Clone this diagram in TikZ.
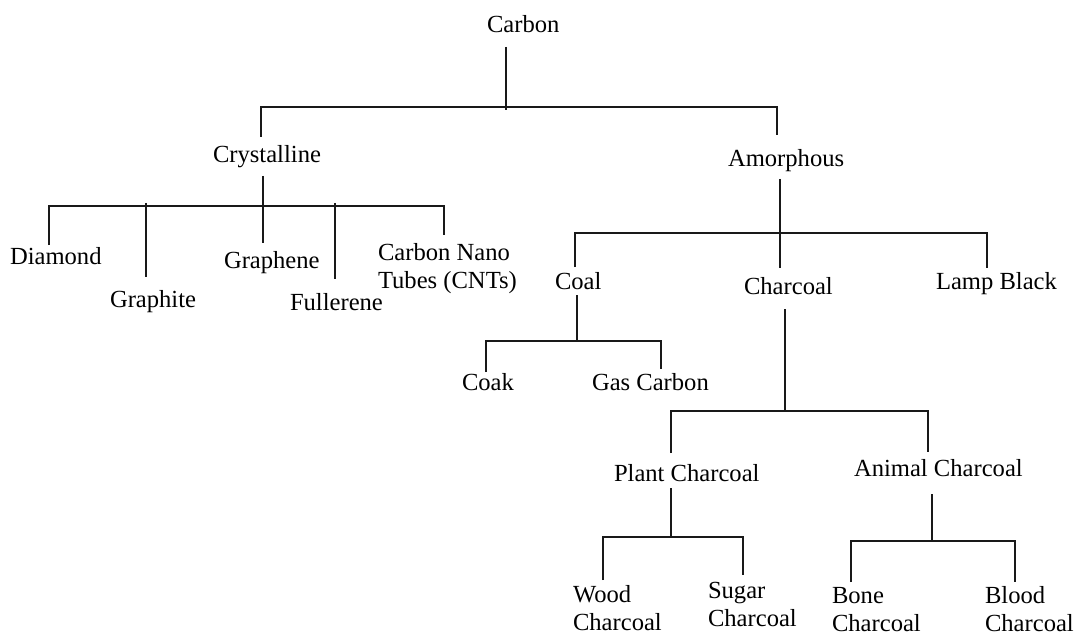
\documentclass[tikz,border=0pt]{standalone}
\usepackage{fontspec}
\setmainfont{Liberation Serif}
\begin{document}
\begin{tikzpicture}[x=1pt,y=-1pt,
  lbl/.style={anchor=base west,inner sep=0pt,outer sep=0pt,text=black,
    font=\fontsize{24.6}{28.5}\selectfont},
  conn/.style={draw=black!90,line width=2pt}]
\useasboundingbox (0,0) rectangle (1075,636);
\newcommand{\twoline}[2]{\begin{tabular}[t]{@{}l@{}}#1\\#2\end{tabular}}
% labels
\node[lbl] (carbon) at (487,33) {Carbon};
\node[lbl] (cryst) at (213,163) {Crystalline};
\node[lbl] (amorph) at (728,167) {Amorphous};
\node[lbl] (diamond) at (10,265) {Diamond};
\node[lbl] (graphite) at (110,307) {Graphite};
\node[lbl] (graphene) at (224,268) {Graphene};
\node[lbl] (fullerene) at (290,310) {Fullerene};
\node[lbl] (cnt) at (378,260) {\twoline{Carbon Nano}{Tubes (CNTs)}};
\node[lbl] (coal) at (555,289) {Coal};
\node[lbl] (charcoal) at (744,294) {Charcoal};
\node[lbl] (lamp) at (936,289) {Lamp Black};
\node[lbl] (coak) at (462,390) {Coak};
\node[lbl] (gas) at (592,390) {Gas Carbon};
\node[lbl] (plant) at (614,481) {Plant Charcoal};
\node[lbl] (animal) at (854,476) {Animal Charcoal};
\node[lbl] (wood) at (573,602) {\twoline{Wood}{Charcoal}};
\node[lbl] (sugar) at (708,598) {\twoline{Sugar}{Charcoal}};
\node[lbl] (bone) at (832,603) {\twoline{Bone}{Charcoal}};
\node[lbl] (blood) at (985,603) {\twoline{Blood}{Charcoal}};
% connector end points
\coordinate (carbonS) at (506,47);
\coordinate (carbonJ) at (506,110);
\coordinate (crystN) at (261,137);
\coordinate (amorphN) at (777,135);
\coordinate (crystS) at (263,176);
\coordinate (crystJ) at (263,209);
\coordinate (diamondN) at (49,245);
\coordinate (graphiteN) at (146,277);
\coordinate (graphiteT) at (146,203);
\coordinate (grapheneN) at (263,243);
\coordinate (fullereneN) at (335,279);
\coordinate (fullereneT) at (335,203);
\coordinate (cntN) at (444,235);
\coordinate (amorphS) at (780,179);
\coordinate (charcoalN) at (780,268);
\coordinate (coalN) at (575,267);
\coordinate (lampN) at (987,268);
\coordinate (coalS) at (577,295);
\coordinate (coalJ) at (577,341);
\coordinate (coakN) at (486,372);
\coordinate (gasN) at (661,369);
\coordinate (charcoalS) at (785,309);
\coordinate (charcoalJ) at (785,411);
\coordinate (plantN) at (671,453);
\coordinate (animalN) at (928,452);
\coordinate (plantS) at (671,488);
\coordinate (plantJ) at (671,537);
\coordinate (woodN) at (603,580);
\coordinate (sugarN) at (743,575);
\coordinate (animalS) at (932,494);
\coordinate (animalJ) at (932,541);
\coordinate (boneN) at (851,582);
\coordinate (bloodN) at (1015,582);
% connectors
\draw[conn] (carbonS) -- (carbonJ);
\draw[conn] (crystN) -- (crystN |- 0,107) -- (amorphN |- 0,107) -- (amorphN);
\draw[conn] (crystS) -- (crystJ);
\draw[conn] (diamondN) -- (diamondN |- 0,206) -- (cntN |- 0,206) -- (cntN);
\draw[conn] (graphiteT) -- (graphiteN);
\draw[conn] (crystS |- 0,206) -- (grapheneN);
\draw[conn] (fullereneT) -- (fullereneN);
\draw[conn] (amorphS) -- (charcoalN);
\draw[conn] (coalN) -- (coalN |- 0,233) -- (lampN |- 0,233) -- (lampN);
\draw[conn] (coalS) -- (coalJ);
\draw[conn] (coakN) -- (coakN |- coalJ) -- (gasN |- coalJ) -- (gasN);
\draw[conn] (charcoalS) -- (charcoalJ);
\draw[conn] (plantN) -- (plantN |- charcoalJ) -- (animalN |- charcoalJ) -- (animalN);
\draw[conn] (plantS) -- (plantJ);
\draw[conn] (woodN) -- (woodN |- plantJ) -- (sugarN |- plantJ) -- (sugarN);
\draw[conn] (animalS) -- (animalJ);
\draw[conn] (boneN) -- (boneN |- animalJ) -- (bloodN |- animalJ) -- (bloodN);
\end{tikzpicture}
\end{document}
